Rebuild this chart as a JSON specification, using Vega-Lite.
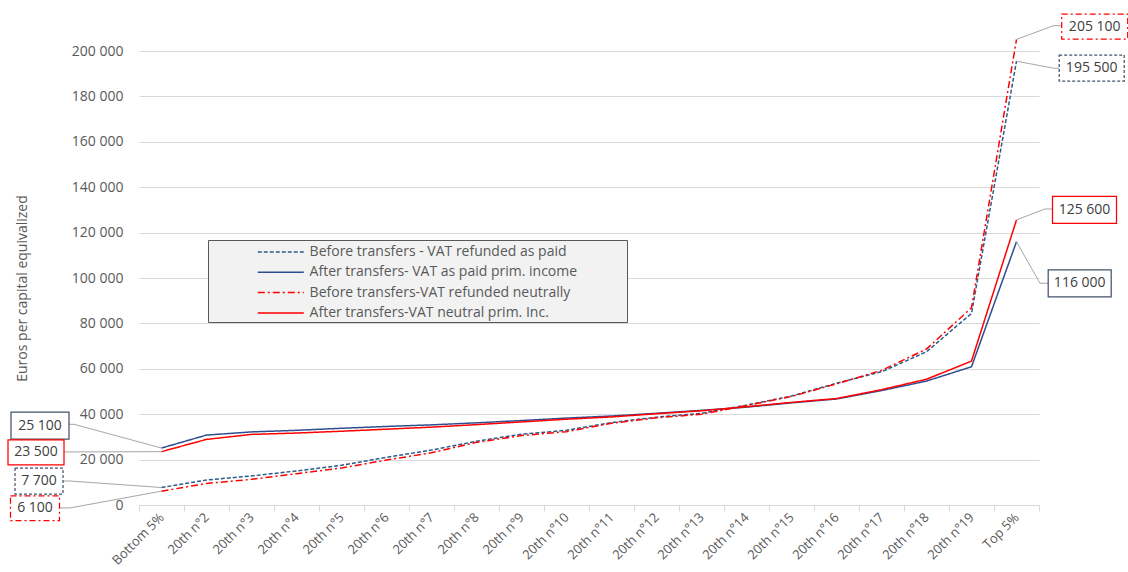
{
  "$schema": "https://vega.github.io/schema/vega-lite/v6.json",
  "width": 900,
  "height": 454,
  "autosize": {"type": "none"},
  "padding": {"left": 139, "top": 51, "right": 89, "bottom": 67},
  "background": "white",
  "config": {
    "locale": {"number": {"decimal": ",", "thousands": " ", "grouping": [3], "currency": ["", " €"]}},
    "view": {"stroke": null},
    "font": "Open Sans"
  },
  "data": {"values": [
    {"cat": "Bottom 5%", "series": "Before transfers - VAT refunded as paid", "value": 7700},
    {"cat": "20th n°2", "series": "Before transfers - VAT refunded as paid", "value": 11000},
    {"cat": "20th n°3", "series": "Before transfers - VAT refunded as paid", "value": 12800},
    {"cat": "20th n°4", "series": "Before transfers - VAT refunded as paid", "value": 15000},
    {"cat": "20th n°5", "series": "Before transfers - VAT refunded as paid", "value": 17500},
    {"cat": "20th n°6", "series": "Before transfers - VAT refunded as paid", "value": 21000},
    {"cat": "20th n°7", "series": "Before transfers - VAT refunded as paid", "value": 24200},
    {"cat": "20th n°8", "series": "Before transfers - VAT refunded as paid", "value": 28100},
    {"cat": "20th n°9", "series": "Before transfers - VAT refunded as paid", "value": 31200},
    {"cat": "20th n°10", "series": "Before transfers - VAT refunded as paid", "value": 32900},
    {"cat": "20th n°11", "series": "Before transfers - VAT refunded as paid", "value": 36300},
    {"cat": "20th n°12", "series": "Before transfers - VAT refunded as paid", "value": 38700},
    {"cat": "20th n°13", "series": "Before transfers - VAT refunded as paid", "value": 40400},
    {"cat": "20th n°14", "series": "Before transfers - VAT refunded as paid", "value": 44000},
    {"cat": "20th n°15", "series": "Before transfers - VAT refunded as paid", "value": 48000},
    {"cat": "20th n°16", "series": "Before transfers - VAT refunded as paid", "value": 53600},
    {"cat": "20th n°17", "series": "Before transfers - VAT refunded as paid", "value": 58700},
    {"cat": "20th n°18", "series": "Before transfers - VAT refunded as paid", "value": 67500},
    {"cat": "20th n°19", "series": "Before transfers - VAT refunded as paid", "value": 84400},
    {"cat": "Top 5%", "series": "Before transfers - VAT refunded as paid", "value": 195500},
    {"cat": "Bottom 5%", "series": "After transfers- VAT as paid prim. income", "value": 25100},
    {"cat": "20th n°2", "series": "After transfers- VAT as paid prim. income", "value": 30800},
    {"cat": "20th n°3", "series": "After transfers- VAT as paid prim. income", "value": 32200},
    {"cat": "20th n°4", "series": "After transfers- VAT as paid prim. income", "value": 32900},
    {"cat": "20th n°5", "series": "After transfers- VAT as paid prim. income", "value": 33800},
    {"cat": "20th n°6", "series": "After transfers- VAT as paid prim. income", "value": 34600},
    {"cat": "20th n°7", "series": "After transfers- VAT as paid prim. income", "value": 35300},
    {"cat": "20th n°8", "series": "After transfers- VAT as paid prim. income", "value": 36200},
    {"cat": "20th n°9", "series": "After transfers- VAT as paid prim. income", "value": 37200},
    {"cat": "20th n°10", "series": "After transfers- VAT as paid prim. income", "value": 38300},
    {"cat": "20th n°11", "series": "After transfers- VAT as paid prim. income", "value": 39200},
    {"cat": "20th n°12", "series": "After transfers- VAT as paid prim. income", "value": 40400},
    {"cat": "20th n°13", "series": "After transfers- VAT as paid prim. income", "value": 41700},
    {"cat": "20th n°14", "series": "After transfers- VAT as paid prim. income", "value": 43100},
    {"cat": "20th n°15", "series": "After transfers- VAT as paid prim. income", "value": 45000},
    {"cat": "20th n°16", "series": "After transfers- VAT as paid prim. income", "value": 46700},
    {"cat": "20th n°17", "series": "After transfers- VAT as paid prim. income", "value": 50400},
    {"cat": "20th n°18", "series": "After transfers- VAT as paid prim. income", "value": 54600},
    {"cat": "20th n°19", "series": "After transfers- VAT as paid prim. income", "value": 60900},
    {"cat": "Top 5%", "series": "After transfers- VAT as paid prim. income", "value": 116000},
    {"cat": "Bottom 5%", "series": "Before transfers-VAT refunded neutrally", "value": 6100},
    {"cat": "20th n°2", "series": "Before transfers-VAT refunded neutrally", "value": 9500},
    {"cat": "20th n°3", "series": "Before transfers-VAT refunded neutrally", "value": 11300},
    {"cat": "20th n°4", "series": "Before transfers-VAT refunded neutrally", "value": 13800},
    {"cat": "20th n°5", "series": "Before transfers-VAT refunded neutrally", "value": 16300},
    {"cat": "20th n°6", "series": "Before transfers-VAT refunded neutrally", "value": 19800},
    {"cat": "20th n°7", "series": "Before transfers-VAT refunded neutrally", "value": 23000},
    {"cat": "20th n°8", "series": "Before transfers-VAT refunded neutrally", "value": 27600},
    {"cat": "20th n°9", "series": "Before transfers-VAT refunded neutrally", "value": 30600},
    {"cat": "20th n°10", "series": "Before transfers-VAT refunded neutrally", "value": 32300},
    {"cat": "20th n°11", "series": "Before transfers-VAT refunded neutrally", "value": 36000},
    {"cat": "20th n°12", "series": "Before transfers-VAT refunded neutrally", "value": 38400},
    {"cat": "20th n°13", "series": "Before transfers-VAT refunded neutrally", "value": 40000},
    {"cat": "20th n°14", "series": "Before transfers-VAT refunded neutrally", "value": 43800},
    {"cat": "20th n°15", "series": "Before transfers-VAT refunded neutrally", "value": 47800},
    {"cat": "20th n°16", "series": "Before transfers-VAT refunded neutrally", "value": 53400},
    {"cat": "20th n°17", "series": "Before transfers-VAT refunded neutrally", "value": 59300},
    {"cat": "20th n°18", "series": "Before transfers-VAT refunded neutrally", "value": 68700},
    {"cat": "20th n°19", "series": "Before transfers-VAT refunded neutrally", "value": 86900},
    {"cat": "Top 5%", "series": "Before transfers-VAT refunded neutrally", "value": 205100},
    {"cat": "Bottom 5%", "series": "After transfers-VAT neutral prim. Inc.", "value": 23500},
    {"cat": "20th n°2", "series": "After transfers-VAT neutral prim. Inc.", "value": 28900},
    {"cat": "20th n°3", "series": "After transfers-VAT neutral prim. Inc.", "value": 31100},
    {"cat": "20th n°4", "series": "After transfers-VAT neutral prim. Inc.", "value": 31700},
    {"cat": "20th n°5", "series": "After transfers-VAT neutral prim. Inc.", "value": 32500},
    {"cat": "20th n°6", "series": "After transfers-VAT neutral prim. Inc.", "value": 33400},
    {"cat": "20th n°7", "series": "After transfers-VAT neutral prim. Inc.", "value": 34300},
    {"cat": "20th n°8", "series": "After transfers-VAT neutral prim. Inc.", "value": 35400},
    {"cat": "20th n°9", "series": "After transfers-VAT neutral prim. Inc.", "value": 36600},
    {"cat": "20th n°10", "series": "After transfers-VAT neutral prim. Inc.", "value": 37800},
    {"cat": "20th n°11", "series": "After transfers-VAT neutral prim. Inc.", "value": 38800},
    {"cat": "20th n°12", "series": "After transfers-VAT neutral prim. Inc.", "value": 40200},
    {"cat": "20th n°13", "series": "After transfers-VAT neutral prim. Inc.", "value": 41500},
    {"cat": "20th n°14", "series": "After transfers-VAT neutral prim. Inc.", "value": 43300},
    {"cat": "20th n°15", "series": "After transfers-VAT neutral prim. Inc.", "value": 45200},
    {"cat": "20th n°16", "series": "After transfers-VAT neutral prim. Inc.", "value": 46900},
    {"cat": "20th n°17", "series": "After transfers-VAT neutral prim. Inc.", "value": 50800},
    {"cat": "20th n°18", "series": "After transfers-VAT neutral prim. Inc.", "value": 55400},
    {"cat": "20th n°19", "series": "After transfers-VAT neutral prim. Inc.", "value": 63400},
    {"cat": "Top 5%", "series": "After transfers-VAT neutral prim. Inc.", "value": 125600}
  ]},
  "encoding": {
    "x": {
      "field": "cat", "type": "ordinal", "sort": null,
      "scale": {"type": "band", "paddingInner": 0, "paddingOuter": 0},
      "axis": {
        "title": null, "tickBand": "extent", "domainColor": "#d9d9d9", "tickColor": "#d9d9d9",
        "tickSize": 6, "labelAngle": -45, "labelAlign": "right", "labelBaseline": "middle",
        "labelPadding": 4, "labelFontSize": 13, "labelColor": "#595959", "labelFont": "Open Sans",
        "grid": false
      }
    },
    "y": {
      "field": "value", "type": "quantitative",
      "scale": {"domain": [0, 200000], "nice": false},
      "axis": {
        "title": "Euros per capital equivalized", "titleFontSize": 14, "titleFontWeight": "normal",
        "titleColor": "#595959", "titleFont": "Open Sans", "titleX": -117, "titleY": 237,
        "titleAngle": -90, "titleAlign": "center", "titleBaseline": "middle",
        "values": [0, 20000, 40000, 60000, 80000, 100000, 120000, 140000, 160000, 180000, 200000],
        "format": ",d", "domain": false, "ticks": false, "labelPadding": 16,
        "labelFontSize": 14, "labelColor": "#595959", "labelFont": "Open Sans",
        "gridColor": "#d9d9d9", "gridWidth": 1
      }
    }
  },
  "layer": [
    {
      "mark": {"type": "line", "strokeWidth": 1.5},
      "encoding": {
        "color": {
          "field": "series", "type": "nominal",
          "scale": {
            "domain": ["Before transfers - VAT refunded as paid", "After transfers- VAT as paid prim. income", "Before transfers-VAT refunded neutrally", "After transfers-VAT neutral prim. Inc."],
            "range": ["#2E5C8A", "#2F4E8F", "#FF0000", "#FF0000"]
          },
          "legend": {
            "orient": "none", "legendX": 69, "legendY": 189, "title": "\u00a0", "titleOrient": "right",
            "titlePadding": 48, "fillColor": "#f2f2f2", "strokeColor": "#595959", "padding": 2,
            "symbolType": "M-2.5,0L2.5,0", "symbolSize": 339, "symbolStrokeWidth": 1.5, "symbolOffset": 60.8,
            "labelFontSize": 14, "labelColor": "#595959", "labelFont": "Open Sans", "labelOffset": 18.8,
            "rowPadding": 3.3, "labelLimit": 600
          }
        },
        "strokeDash": {
          "field": "series", "type": "nominal",
          "scale": {
            "domain": ["Before transfers - VAT refunded as paid", "After transfers- VAT as paid prim. income", "Before transfers-VAT refunded neutrally", "After transfers-VAT neutral prim. Inc."],
            "range": [[4, 2], [1, 0], [7, 3, 2, 3], [1, 0]]
          },
          "legend": {
            "orient": "none", "legendX": 69, "legendY": 189, "title": "\u00a0", "titleOrient": "right",
            "titlePadding": 48, "fillColor": "#f2f2f2", "strokeColor": "#595959", "padding": 2,
            "symbolType": "M-2.5,0L2.5,0", "symbolSize": 339, "symbolStrokeWidth": 1.5, "symbolOffset": 60.8,
            "labelFontSize": 14, "labelColor": "#595959", "labelFont": "Open Sans", "labelOffset": 18.8,
            "rowPadding": 3.3, "labelLimit": 600
          }
        }
      }
    },
    {
      "transform": [{"filter": "datum.cat == 'Top 5%' && datum.series == 'Before transfers - VAT refunded as paid'"}],
      "layer": [
        {"mark": {"type": "rule", "color": "#a6a6a6", "strokeWidth": 1, "x2Offset": 37.8, "y2Offset": 7.1}, "encoding": {"x2": {"field": "cat"}, "y2": {"field": "value"}}},
        {"mark": {"type": "rule", "color": "#a6a6a6", "strokeWidth": 1, "xOffset": 37.8, "yOffset": 7.1, "x2Offset": 42.8, "y2Offset": 7.1}, "encoding": {"x2": {"field": "cat"}, "y2": {"field": "value"}}},
        {"mark": {"type": "point", "shape": "M-1,-0.4L1,-0.4L1,0.4L-1,0.4Z", "size": 4225, "filled": true, "fill": "white", "stroke": "#44546A", "strokeWidth": 1.25, "strokeDash": [3, 2], "opacity": 1, "xOffset": 75.2, "yOffset": 6.8}},
        {"mark": {"type": "text", "dx": 75.2, "dy": 6.8, "fontSize": 14, "font": "Open Sans", "color": "#404040"}, "encoding": {"text": {"field": "value", "type": "quantitative", "format": ",d"}}}
      ]
    },
    {
      "transform": [{"filter": "datum.cat == 'Bottom 5%' && datum.series == 'Before transfers - VAT refunded as paid'"}],
      "layer": [
        {"mark": {"type": "rule", "color": "#a6a6a6", "strokeWidth": 1, "x2Offset": -91.5, "y2Offset": -6.5}, "encoding": {"x2": {"field": "cat"}, "y2": {"field": "value"}}},
        {"mark": {"type": "rule", "color": "#a6a6a6", "strokeWidth": 1, "xOffset": -91.5, "yOffset": -6.5, "x2Offset": -98.5, "y2Offset": -6.5}, "encoding": {"x2": {"field": "cat"}, "y2": {"field": "value"}}},
        {"mark": {"type": "point", "shape": "M-1,-0.542L1,-0.542L1,0.542L-1,0.542Z", "size": 2304, "filled": true, "fill": "white", "stroke": "#44546A", "strokeWidth": 1.25, "strokeDash": [3, 2], "opacity": 1, "xOffset": -122.5, "yOffset": -6.5}},
        {"mark": {"type": "text", "dx": -122.5, "dy": -6.5, "fontSize": 14, "font": "Open Sans", "color": "#404040"}, "encoding": {"text": {"field": "value", "type": "quantitative", "format": ",d"}}}
      ]
    },
    {
      "transform": [{"filter": "datum.cat == 'Top 5%' && datum.series == 'After transfers- VAT as paid prim. income'"}],
      "layer": [
        {"mark": {"type": "rule", "color": "#a6a6a6", "strokeWidth": 1, "x2Offset": 23.5, "y2Offset": 41.6}, "encoding": {"x2": {"field": "cat"}, "y2": {"field": "value"}}},
        {"mark": {"type": "rule", "color": "#a6a6a6", "strokeWidth": 1, "xOffset": 23.5, "yOffset": 41.6, "x2Offset": 31.8, "y2Offset": 41.6}, "encoding": {"x2": {"field": "cat"}, "y2": {"field": "value"}}},
        {"mark": {"type": "point", "shape": "M-1,-0.429L1,-0.429L1,0.429L-1,0.429Z", "size": 3969, "filled": true, "fill": "white", "stroke": "#44546A", "strokeWidth": 1.25, "opacity": 1, "xOffset": 63.2, "yOffset": 41.6}},
        {"mark": {"type": "text", "dx": 63.2, "dy": 41.6, "fontSize": 14, "font": "Open Sans", "color": "#404040"}, "encoding": {"text": {"field": "value", "type": "quantitative", "format": ",d"}}}
      ]
    },
    {
      "transform": [{"filter": "datum.cat == 'Bottom 5%' && datum.series == 'After transfers- VAT as paid prim. income'"}],
      "layer": [
        {"mark": {"type": "rule", "color": "#a6a6a6", "strokeWidth": 1, "x2Offset": -87.5, "y2Offset": -23.7}, "encoding": {"x2": {"field": "cat"}, "y2": {"field": "value"}}},
        {"mark": {"type": "rule", "color": "#a6a6a6", "strokeWidth": 1, "xOffset": -87.5, "yOffset": -23.7, "x2Offset": -92.5, "y2Offset": -23.7}, "encoding": {"x2": {"field": "cat"}, "y2": {"field": "value"}}},
        {"mark": {"type": "point", "shape": "M-1,-0.466L1,-0.466L1,0.466L-1,0.466Z", "size": 3364, "filled": true, "fill": "white", "stroke": "#44546A", "strokeWidth": 1.25, "opacity": 1, "xOffset": -121.5, "yOffset": -22.5}},
        {"mark": {"type": "text", "dx": -121.5, "dy": -22.5, "fontSize": 14, "font": "Open Sans", "color": "#404040"}, "encoding": {"text": {"field": "value", "type": "quantitative", "format": ",d"}}}
      ]
    },
    {
      "transform": [{"filter": "datum.cat == 'Top 5%' && datum.series == 'Before transfers-VAT refunded neutrally'"}],
      "layer": [
        {"mark": {"type": "rule", "color": "#a6a6a6", "strokeWidth": 1, "x2Offset": 36.8, "y2Offset": -13.7}, "encoding": {"x2": {"field": "cat"}, "y2": {"field": "value"}}},
        {"mark": {"type": "rule", "color": "#a6a6a6", "strokeWidth": 1, "xOffset": 36.8, "yOffset": -13.7, "x2Offset": 45.2, "y2Offset": -13.7}, "encoding": {"x2": {"field": "cat"}, "y2": {"field": "value"}}},
        {"mark": {"type": "point", "shape": "M-1,-0.379L1,-0.379L1,0.379L-1,0.379Z", "size": 4356, "filled": true, "fill": "white", "stroke": "#FF0000", "strokeWidth": 1.25, "strokeDash": [6, 3, 2, 3], "opacity": 1, "xOffset": 78.2, "yOffset": -12.9}},
        {"mark": {"type": "text", "dx": 78.2, "dy": -12.9, "fontSize": 14, "font": "Open Sans", "color": "#404040"}, "encoding": {"text": {"field": "value", "type": "quantitative", "format": ",d"}}}
      ]
    },
    {
      "transform": [{"filter": "datum.cat == 'Bottom 5%' && datum.series == 'Before transfers-VAT refunded neutrally'"}],
      "layer": [
        {"mark": {"type": "rule", "color": "#a6a6a6", "strokeWidth": 1, "x2Offset": -91.5, "y2Offset": 16.8}, "encoding": {"x2": {"field": "cat"}, "y2": {"field": "value"}}},
        {"mark": {"type": "rule", "color": "#a6a6a6", "strokeWidth": 1, "xOffset": -91.5, "yOffset": 16.8, "x2Offset": -101.5, "y2Offset": 16.8}, "encoding": {"x2": {"field": "cat"}, "y2": {"field": "value"}}},
        {"mark": {"type": "point", "shape": "M-1,-0.51L1,-0.51L1,0.51L-1,0.51Z", "size": 2401, "filled": true, "fill": "white", "stroke": "#FF0000", "strokeWidth": 1.25, "strokeDash": [6, 3, 2, 3], "opacity": 1, "xOffset": -126.5, "yOffset": 17.1}},
        {"mark": {"type": "text", "dx": -126.5, "dy": 17.1, "fontSize": 14, "font": "Open Sans", "color": "#404040"}, "encoding": {"text": {"field": "value", "type": "quantitative", "format": ",d"}}}
      ]
    },
    {
      "transform": [{"filter": "datum.cat == 'Top 5%' && datum.series == 'After transfers-VAT neutral prim. Inc.'"}],
      "layer": [
        {"mark": {"type": "rule", "color": "#a6a6a6", "strokeWidth": 1, "x2Offset": 28.5, "y2Offset": -10.9}, "encoding": {"x2": {"field": "cat"}, "y2": {"field": "value"}}},
        {"mark": {"type": "rule", "color": "#a6a6a6", "strokeWidth": 1, "xOffset": 28.5, "yOffset": -10.9, "x2Offset": 35.8, "y2Offset": -10.9}, "encoding": {"x2": {"field": "cat"}, "y2": {"field": "value"}}},
        {"mark": {"type": "point", "shape": "M-1,-0.422L1,-0.422L1,0.422L-1,0.422Z", "size": 4096, "filled": true, "fill": "white", "stroke": "#FF0000", "strokeWidth": 1.25, "opacity": 1, "xOffset": 68, "yOffset": -9.9}},
        {"mark": {"type": "text", "dx": 68, "dy": -9.9, "fontSize": 14, "font": "Open Sans", "color": "#404040"}, "encoding": {"text": {"field": "value", "type": "quantitative", "format": ",d"}}}
      ]
    },
    {
      "transform": [{"filter": "datum.cat == 'Bottom 5%' && datum.series == 'After transfers-VAT neutral prim. Inc.'"}],
      "layer": [
        {"mark": {"type": "rule", "color": "#a6a6a6", "strokeWidth": 1, "x2Offset": -97.5, "y2Offset": 0.3}, "encoding": {"x2": {"field": "cat"}, "y2": {"field": "value"}}},
        {"mark": {"type": "point", "shape": "M-1,-0.446L1,-0.446L1,0.446L-1,0.446Z", "size": 3136, "filled": true, "fill": "white", "stroke": "#FF0000", "strokeWidth": 1.25, "opacity": 1, "xOffset": -125.5, "yOffset": 0.8}},
        {"mark": {"type": "text", "dx": -125.5, "dy": 0.8, "fontSize": 14, "font": "Open Sans", "color": "#404040"}, "encoding": {"text": {"field": "value", "type": "quantitative", "format": ",d"}}}
      ]
    }
  ]
}
